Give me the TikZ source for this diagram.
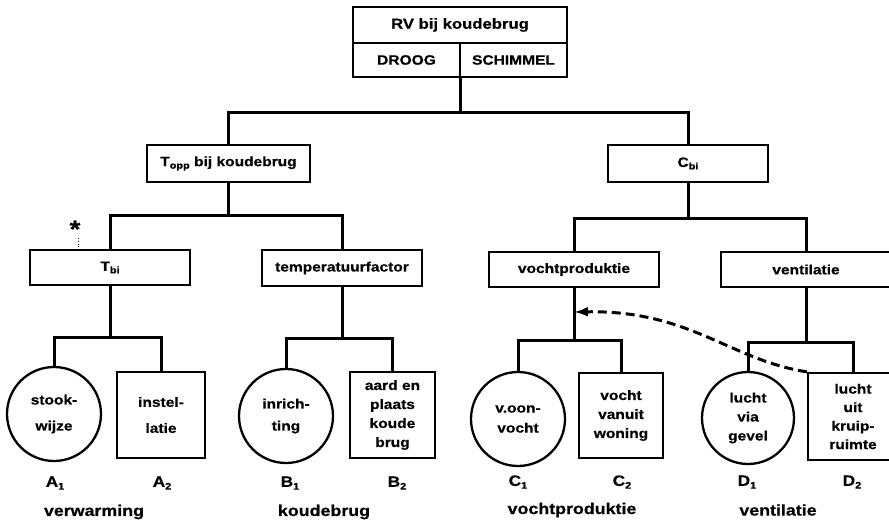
\documentclass[tikz,border=0pt]{standalone}
\usepackage{fontspec}
\setmainfont{Liberation Sans}[FakeStretch=1.15, BoldFeatures={FakeBold=0.5}]
\usetikzlibrary{arrows.meta}
\newcommand\sbs[1]{\raisebox{-0.35ex}{\fontsize{9.5}{9.5}\selectfont #1}}
\begin{document}
\begin{tikzpicture}[x=1pt,y=-1pt,
  box/.style={draw, line width=2.3pt, inner sep=0pt, align=center,
    font=\bfseries\fontsize{13.5}{19}\selectfont},
  circ/.style={draw, circle, line width=2.3pt, inner sep=0pt, align=center,
    minimum size=94pt, font=\bfseries\fontsize{13.5}{20}\selectfont},
  conn/.style={line width=3pt},
  lab/.style={inner sep=0pt, font=\bfseries\fontsize{15}{15}\selectfont},
  cat/.style={inner sep=0pt, font=\bfseries\fontsize{15.5}{16}\selectfont}]
\useasboundingbox (0,0) rectangle (889,523);
% top
\node[box, minimum width=214pt, minimum height=36pt, font=\bfseries\fontsize{14.5}{15}\selectfont] (rv) at (460,25) {RV bij koudebrug};
\node[box, minimum width=107pt, minimum height=34pt] (droog) at (406.5,60) {DROOG};
\node[box, minimum width=107pt, minimum height=34pt] (schimmel) at (513.5,60) {SCHIMMEL};
% level 2
\node[box, minimum width=163pt, minimum height=37pt] (topp) at (228.5,163.5) {T\sbs{opp} bij koudebrug};
\node[box, minimum width=160pt, minimum height=37pt] (cbi) at (688,163.5) {C\sbs{bi}};
% level 3
\node[box, minimum width=160pt, minimum height=35pt] (tbi) at (110,267.5) {T\sbs{bi}};
\node[box, minimum width=160pt, minimum height=36pt] (temp) at (342,268) {temperatuurfactor};
\node[box, minimum width=170pt, minimum height=35pt] (vocht) at (574,269.5) {vochtproduktie};
\node[box, minimum width=170pt, minimum height=35pt] (vent) at (806,269.5) {ventilatie};
% level 4
\node[circ, font=\bfseries\fontsize{13.5}{26}\selectfont] (a1) at (54,414) {stook-\\wijze};
\node[box, minimum width=88pt, minimum height=86pt, font=\bfseries\fontsize{13.5}{26}\selectfont] (a2) at (161,415) {instel-\\latie};
\node[circ, font=\bfseries\fontsize{13.5}{22}\selectfont] (b1) at (286,416) {inrich-\\ting};
\node[box, minimum width=85pt, minimum height=86pt] (b2) at (392.5,415) {aard en\\plaats\\koude\\brug};
\node[circ] (c1) at (518,419) {v.oon-\\vocht};
\node[box, minimum width=84pt, minimum height=85pt] (c2) at (621,415.5) {vocht\\vanuit\\woning};
\node[circ, minimum size=92pt, font=\bfseries\fontsize{13.5}{19}\selectfont] (d1) at (748,418) {lucht\\via\\gevel};
\node[box, minimum width=90pt, minimum height=87pt, font=\bfseries\fontsize{13.5}{18.5}\selectfont] (d2) at (853,416.5) {lucht\\uit\\kruip-\\ruimte};
% connectors
\coordinate (j0) at (460,112);
\draw[conn] (j0 |- droog.south) -- (j0);
\draw[conn] (topp.north) |- (j0) -| (cbi.north);
\coordinate (j1) at (228.5,215);
\draw[conn] (topp.south) -- (j1);
\draw[conn] (tbi.north) |- (j1) -| (temp.north);
\coordinate (j2) at (688,218);
\draw[conn] (cbi.south) -- (j2);
\draw[conn] (vocht.north) |- (j2) -| (vent.north);
\coordinate (ja) at (110,337);
\draw[conn] (tbi.south) -- (ja);
\draw[conn] (a1.north) |- (ja) -| (a2.north);
\coordinate (jb) at (342,338);
\draw[conn] (temp.south) -- (jb);
\draw[conn] (b1.north) |- (jb) -| (b2.north);
\coordinate (jc) at (574,340);
\draw[conn] (vocht.south) -- (jc);
\draw[conn] (c1.north) |- (jc) -| (c2.north);
\coordinate (jd) at (806,342);
\draw[conn] (vent.south) -- (jd);
\draw[conn] (d1.north) |- (jd) -| (d2.north);
% dashed arrow
\coordinate (tip) at (574,312);
\draw[line width=3pt, dash pattern=on 9pt off 5pt, -{Latex[length=14pt,width=10pt]}]
  (d2.north west) .. controls (730,360) and (690,310) .. (tip);
% labels
\node[lab] (la1) at (55,483) {A\sbs{1}};
\node[lab] (la2) at (162,483) {A\sbs{2}};
\node[lab] (lb1) at (290,483) {B\sbs{1}};
\node[lab] (lb2) at (397,483) {B\sbs{2}};
\node[lab] (lc1) at (518,482) {C\sbs{1}};
\node[lab] (lc2) at (622,482) {C\sbs{2}};
\node[lab] (ld1) at (747,482) {D\sbs{1}};
\node[lab] (ld2) at (852,482) {D\sbs{2}};
\node[cat] (cv) at (94,512) {verwarming};
\node[cat] (ck) at (324,512) {koudebrug};
\node[cat] (cp) at (572,510) {vochtproduktie};
\node[cat] (cvent) at (778,510) {ventilatie};
% star mark
\node[inner sep=0pt, font=\bfseries\fontsize{24}{24}\selectfont] (star) at (75,229) {*};
\coordinate (tk1) at (78,238);
\coordinate (tk2) at (78,250);
\draw[line width=0.8pt, dotted] (tk1) -- (tk2);
\end{tikzpicture}
\end{document}
